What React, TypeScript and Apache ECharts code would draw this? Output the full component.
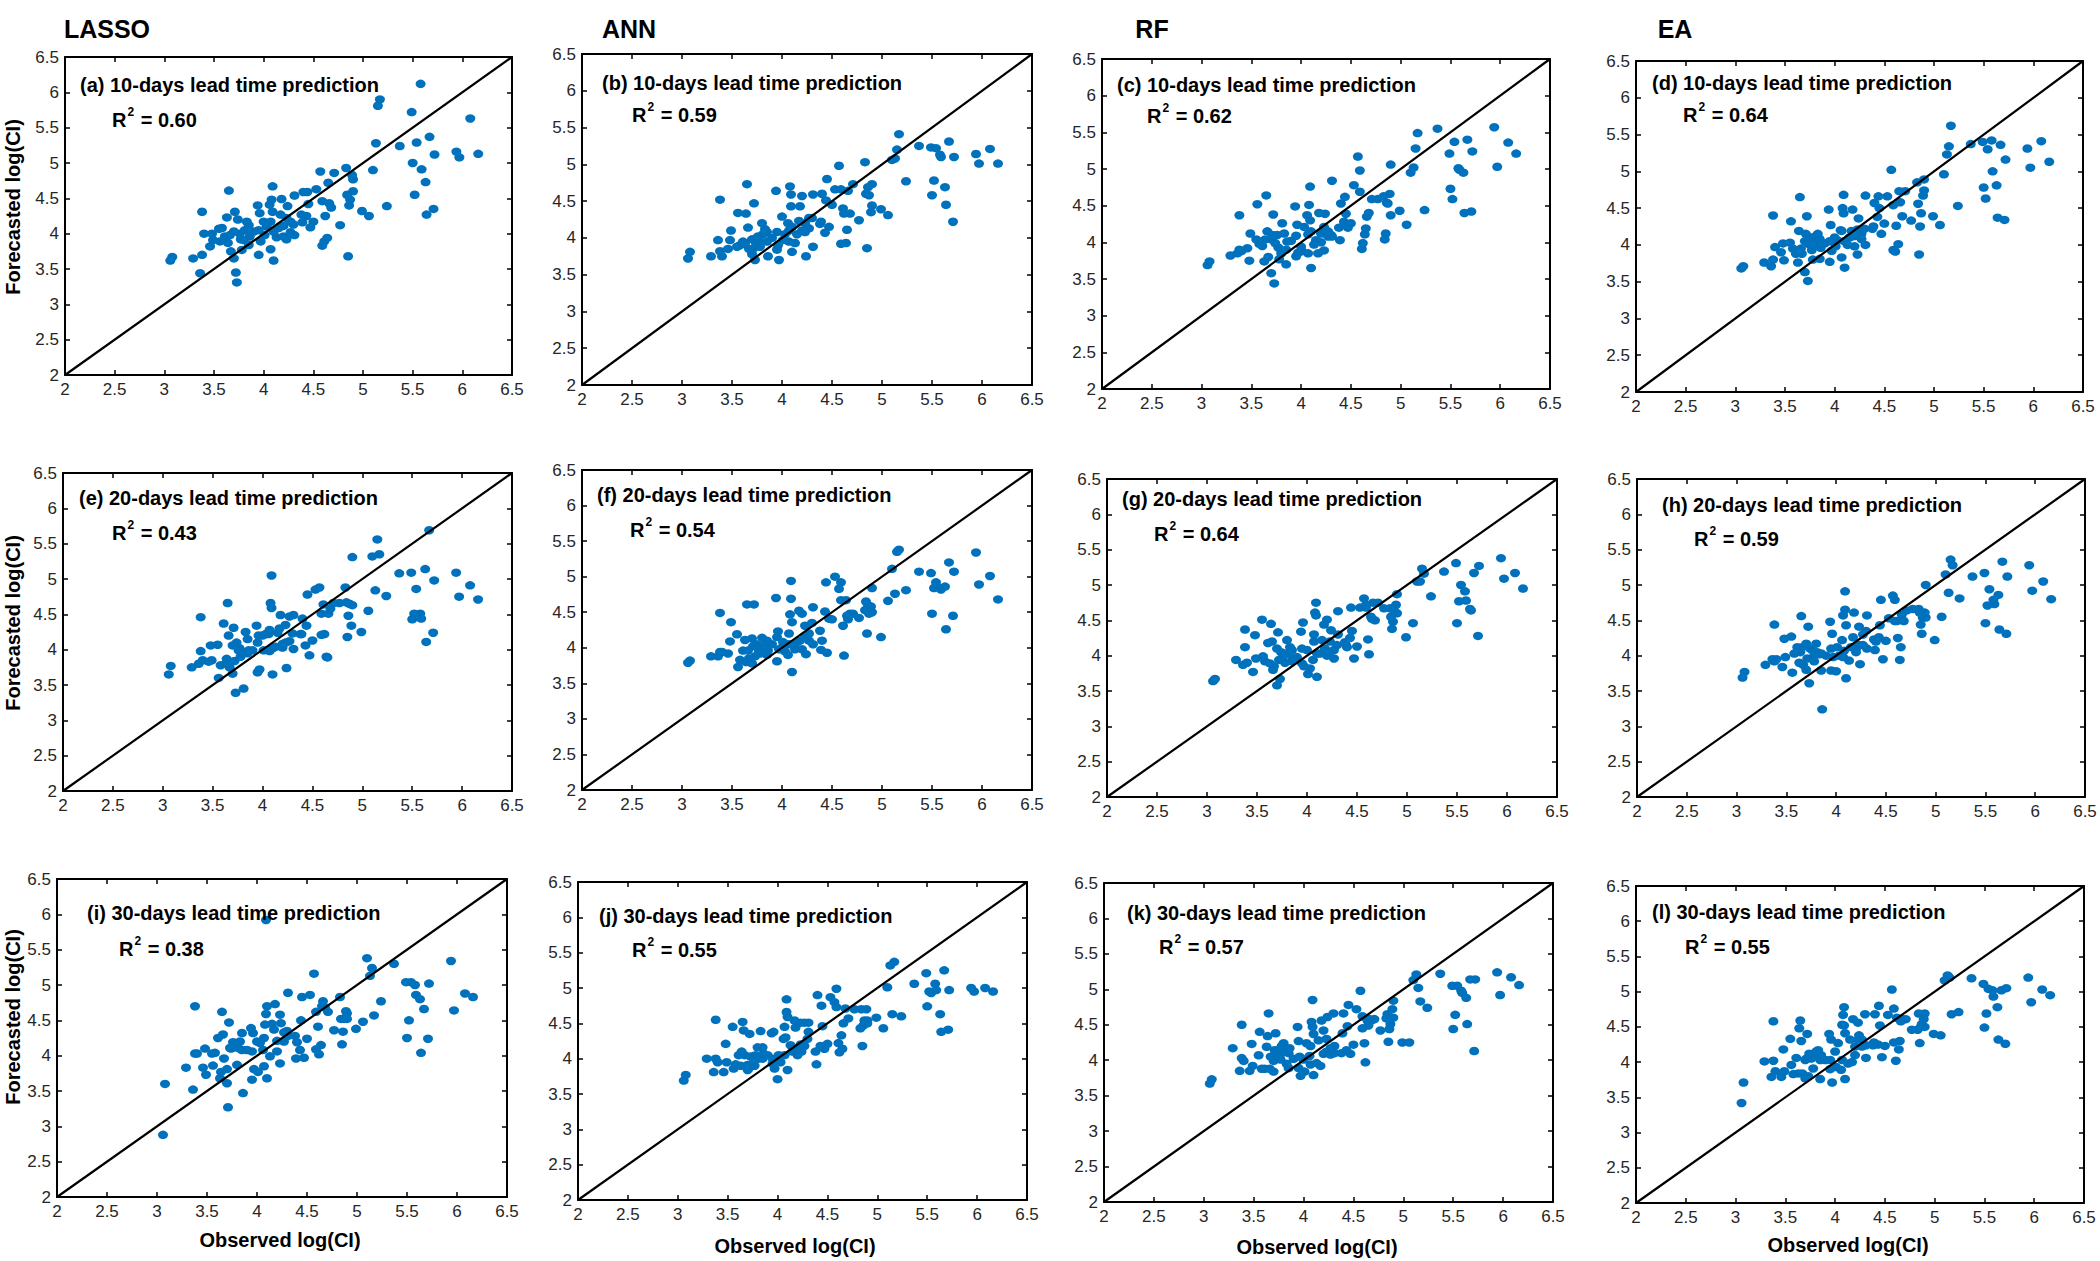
import React, { useEffect, useRef } from "react";
import * as echarts from "echarts";

// ---------------- DATA ----------------
const models = ["LASSO", "ANN", "RF", "EA"];
const panelLetters = ["a", "b", "c", "d", "e", "f", "g", "h", "i", "j", "k", "l"];
const leadTimes = [10, 10, 10, 10, 20, 20, 20, 20, 30, 30, 30, 30];
const r2Values = ["0.60", "0.59", "0.62", "0.64", "0.43", "0.54", "0.64", "0.59", "0.38", "0.55", "0.57", "0.55"];
const axisTicks = [2, 2.5, 3, 3.5, 4, 4.5, 5, 5.5, 6, 6.5];
const identityLine = [2, 6.5];

const observed = [
  3.06, 3.08, 3.29, 3.36, 3.38, 3.38, 3.40, 3.46, 3.48, 3.49,
  3.55, 3.56, 3.58, 3.61, 3.63, 3.64, 3.65, 3.66, 3.67, 3.70,
  3.70, 3.71, 3.72, 3.73, 3.74, 3.76, 3.77, 3.78, 3.80, 3.81,
  3.83, 3.85, 3.85, 3.86, 3.90, 3.94, 3.95, 3.95, 3.96, 3.97,
  4.00, 4.01, 4.03, 4.06, 4.07, 4.07, 4.08, 4.09, 4.09, 4.10,
  4.10, 4.13, 4.15, 4.17, 4.18, 4.20, 4.20, 4.23, 4.23, 4.24,
  4.27, 4.27, 4.30, 4.31, 4.31, 4.38, 4.39, 4.40, 4.43, 4.44,
  4.45, 4.47, 4.50, 4.53, 4.57, 4.59, 4.59, 4.61, 4.62, 4.64,
  4.65, 4.66, 4.68, 4.71, 4.77, 4.83, 4.84, 4.85, 4.86, 4.87,
  4.89, 4.90, 4.90, 4.99, 5.06, 5.10, 5.13, 5.15, 5.17, 5.24,
  5.37, 5.49, 5.50, 5.52, 5.54, 5.58, 5.59, 5.63, 5.64, 5.67,
  5.71, 5.72, 5.94, 5.97, 6.08, 6.16,
];

const lassoDay10 = [
  3.62, 3.67, 3.65, 3.44, 4.31, 3.70, 4.00, 3.82, 4.00, 3.91,
  4.07, 3.89, 4.08, 3.96, 4.23, 3.87, 4.61, 3.98, 3.75, 4.03,
  3.65, 4.31, 3.45, 3.31, 4.20, 4.00, 3.92, 3.77, 3.91, 4.05,
  4.17, 4.12, 3.84, 3.96, 4.03, 4.40, 3.70, 4.05, 4.29, 3.89,
  4.17, 3.98, 4.10, 4.41, 3.78, 4.17, 4.48, 4.67, 4.31, 3.62,
  4.03, 3.95, 4.08, 4.27, 4.49, 4.11, 3.96, 4.22, 3.92, 4.39,
  4.17, 4.02, 4.13, 4.54, 3.98, 4.27, 4.16, 4.59, 4.25, 4.59,
  4.42, 4.09, 4.17, 4.63, 4.88, 4.46, 3.83, 3.89, 4.25, 3.94,
  4.72, 4.43, 4.37, 4.86, 4.12, 4.93, 4.55, 3.68, 4.40, 4.48,
  4.83, 4.77, 4.60, 4.32, 4.25, 4.90, 5.28, 5.81, 5.90, 4.39,
  5.24, 5.72, 5.00, 4.55, 5.29, 6.12, 4.91, 4.73, 4.27, 5.37,
  4.35, 5.12, 5.16, 5.08, 5.63, 5.13,
];
const annDay10 = [
  3.72, 3.81, 3.75, 3.97, 4.52, 3.82, 3.75, 3.85, 3.97, 4.10,
  3.88, 4.34, 3.90, 3.95, 3.92, 4.33, 4.73, 4.14, 3.85, 3.98,
  3.78, 3.85, 4.47, 3.70, 3.92, 4.02, 3.97, 3.88, 4.20, 4.05,
  4.12, 4.08, 3.95, 3.75, 4.00, 4.64, 3.84, 4.08, 3.90, 3.70,
  4.29, 3.97, 4.05, 4.20, 3.95, 4.10, 4.70, 4.59, 4.43, 3.81,
  4.15, 3.93, 4.05, 4.23, 4.43, 4.10, 4.57, 4.20, 4.08, 3.75,
  4.13, 4.27, 4.27, 4.59, 3.88, 4.19, 4.22, 4.60, 4.07, 4.51,
  4.80, 4.15, 4.45, 4.66, 4.98, 4.66, 3.92, 4.40, 4.33, 3.93,
  4.11, 4.64, 4.33, 4.73, 4.24, 5.03, 4.60, 3.86, 4.69, 4.58,
  4.35, 4.44, 4.73, 4.39, 4.31, 5.06, 5.08, 5.20, 5.41, 4.77,
  5.25, 5.23, 4.58, 4.78, 5.22, 5.13, 5.10, 4.69, 4.45, 5.31,
  4.22, 5.10, 5.14, 5.01, 5.21, 5.01,
];
const rfDay10 = [
  3.69, 3.74, 3.82, 3.85, 4.37, 3.90, 3.88, 3.92, 3.75, 4.12,
  4.04, 4.52, 3.98, 3.95, 3.74, 4.04, 4.64, 4.15, 3.80, 4.04,
  3.58, 4.10, 4.38, 3.44, 3.99, 4.10, 3.93, 3.77, 3.85, 4.26,
  4.12, 3.70, 3.90, 4.01, 4.02, 4.49, 3.81, 4.09, 4.24, 3.86,
  3.94, 3.88, 4.21, 4.37, 3.85, 4.11, 4.51, 4.76, 4.30, 3.65,
  4.15, 3.97, 4.03, 3.85, 4.40, 4.12, 4.00, 4.21, 3.89, 4.39,
  4.08, 4.15, 4.10, 4.84, 4.08, 4.20, 4.03, 4.53, 4.28, 4.62,
  4.39, 4.20, 4.26, 4.78, 5.17, 4.98, 4.69, 3.91, 3.99, 4.11,
  4.19, 4.35, 4.40, 4.59, 4.59, 4.63, 4.04, 4.12, 4.54, 4.53,
  4.66, 4.37, 5.06, 4.43, 4.24, 4.95, 5.02, 5.28, 5.49, 4.44,
  5.55, 5.21, 4.73, 4.59, 5.37, 5.01, 4.99, 4.95, 4.40, 5.40,
  4.42, 5.24, 5.57, 5.03, 5.36, 5.21,
];
const eaDay10 = [
  3.68, 3.71, 3.76, 3.71, 4.40, 3.80, 3.97, 3.90, 4.02, 3.79,
  4.03, 4.32, 3.95, 3.88, 3.76, 4.19, 4.65, 3.95, 3.88, 4.05,
  3.63, 4.15, 4.39, 3.51, 4.01, 4.10, 3.93, 3.80, 4.01, 4.12,
  4.15, 3.81, 4.08, 3.96, 4.02, 4.48, 3.77, 4.05, 4.27, 3.92,
  4.10, 3.98, 4.06, 4.20, 3.83, 4.19, 4.50, 4.68, 4.43, 3.69,
  4.05, 4.00, 4.10, 4.19, 4.48, 4.12, 3.98, 4.21, 3.87, 4.36,
  4.15, 4.08, 4.22, 4.67, 4.00, 4.22, 4.25, 4.57, 4.38, 4.66,
  4.50, 4.15, 4.29, 4.66, 5.02, 4.54, 3.93, 3.91, 4.26, 4.01,
  4.73, 4.58, 4.39, 4.73, 4.33, 4.85, 4.56, 3.87, 4.25, 4.43,
  4.67, 4.74, 4.89, 4.39, 4.27, 4.96, 5.23, 5.34, 5.62, 4.53,
  5.37, 5.40, 4.78, 4.63, 5.30, 5.42, 5.00, 4.81, 4.37, 5.36,
  4.34, 5.16, 5.31, 5.05, 5.41, 5.13,
];
const lassoDay20 = [
  3.65, 3.77, 3.75, 3.80, 4.46, 3.98, 3.85, 3.83, 4.06, 3.85,
  4.07, 3.60, 3.78, 4.37, 3.80, 3.87, 4.66, 4.20, 3.75, 4.06,
  3.66, 4.31, 3.84, 3.39, 4.10, 3.99, 4.02, 3.90, 3.95, 3.45,
  4.25, 4.15, 3.95, 3.99, 3.99, 4.34, 3.68, 4.10, 4.20, 3.72,
  4.20, 3.99, 4.22, 4.22, 3.98, 4.28, 4.66, 5.05, 4.59, 3.65,
  4.02, 4.04, 4.24, 4.30, 4.49, 4.08, 4.03, 4.35, 4.10, 3.74,
  4.12, 4.47, 4.23, 4.49, 4.01, 4.22, 4.22, 4.44, 4.06, 4.34,
  4.78, 3.92, 4.13, 4.85, 4.88, 4.51, 4.21, 4.64, 4.22, 3.90,
  3.89, 4.51, 4.58, 4.66, 4.66, 4.88, 4.67, 4.18, 4.48, 4.65,
  4.34, 4.63, 5.31, 4.25, 4.55, 5.32, 4.84, 5.56, 5.35, 4.76,
  5.08, 5.09, 4.43, 4.51, 4.86, 4.51, 4.44, 5.14, 4.11, 5.69,
  4.24, 4.98, 5.09, 4.75, 4.91, 4.71,
];
const annDay20 = [
  3.79, 3.82, 3.88, 3.88, 4.49, 3.94, 3.94, 3.92, 4.09, 4.36,
  4.19, 3.73, 3.83, 3.96, 4.11, 3.80, 4.61, 3.96, 3.85, 4.13,
  3.78, 4.02, 4.61, 3.88, 4.05, 4.02, 3.95, 3.92, 4.14, 3.95,
  4.06, 3.90, 4.10, 3.96, 4.05, 4.70, 3.81, 4.15, 4.23, 3.98,
  4.00, 4.08, 3.95, 3.90, 4.20, 4.05, 4.47, 4.94, 4.69, 3.66,
  4.36, 3.98, 4.08, 4.52, 4.10, 4.48, 3.98, 4.31, 4.17, 3.91,
  4.20, 4.10, 4.35, 4.57, 4.05, 4.24, 3.97, 4.10, 4.51, 4.92,
  3.93, 4.41, 4.40, 5.00, 4.83, 4.92, 4.67, 4.31, 3.89, 4.67,
  4.45, 4.40, 4.48, 4.48, 4.42, 4.53, 4.65, 4.20, 4.60, 4.48,
  4.58, 4.84, 4.50, 4.15, 4.66, 5.11, 4.76, 5.35, 5.38, 4.81,
  5.07, 5.05, 4.48, 4.84, 4.92, 4.84, 4.82, 4.86, 4.26, 5.20,
  4.45, 5.07, 5.34, 4.89, 5.01, 4.68,
];
const rfDay20 = [
  3.64, 3.67, 3.94, 3.87, 4.37, 4.12, 3.90, 3.77, 4.29, 3.96,
  4.51, 3.99, 3.92, 4.18, 3.89, 4.45, 4.20, 3.80, 3.85, 4.10,
  3.58, 4.33, 3.94, 3.67, 4.05, 3.98, 4.03, 3.90, 4.22, 4.03,
  4.12, 3.92, 4.08, 3.96, 3.98, 4.34, 3.89, 4.10, 4.47, 3.85,
  4.08, 3.74, 3.82, 3.94, 4.20, 4.30, 4.61, 4.75, 4.57, 3.70,
  4.03, 4.03, 4.22, 4.44, 4.10, 4.51, 4.00, 4.20, 4.05, 4.36,
  4.08, 3.96, 4.15, 4.63, 4.30, 4.19, 4.15, 4.12, 4.25, 4.68,
  4.35, 3.96, 4.13, 4.68, 4.81, 4.72, 4.68, 4.23, 4.02, 4.55,
  4.52, 4.75, 4.50, 4.75, 4.67, 4.67, 4.55, 4.38, 4.48, 4.64,
  4.72, 4.87, 4.60, 4.26, 4.46, 5.05, 5.05, 5.23, 5.16, 4.84,
  5.19, 5.31, 4.46, 4.77, 5.00, 4.91, 4.78, 4.66, 4.64, 5.17,
  4.28, 5.27, 5.38, 5.09, 5.17, 4.95,
];
const eaDay20 = [
  3.69, 3.77, 3.87, 3.95, 4.44, 3.92, 3.95, 3.84, 4.24, 3.98,
  4.27, 3.76, 4.03, 4.12, 3.90, 4.05, 4.56, 4.12, 3.87, 4.17,
  3.80, 3.96, 4.41, 3.61, 4.10, 4.08, 3.98, 3.92, 4.17, 4.05,
  4.02, 3.79, 4.03, 3.24, 4.00, 4.48, 3.79, 4.10, 4.31, 3.98,
  3.78, 4.12, 4.00, 4.22, 3.98, 4.57, 4.07, 4.91, 4.65, 3.68,
  4.43, 3.93, 4.12, 4.26, 4.61, 4.05, 4.10, 4.41, 4.15, 3.88,
  4.15, 4.30, 4.35, 4.57, 4.10, 4.23, 4.08, 4.20, 4.26, 4.43,
  4.79, 3.95, 4.21, 4.53, 4.85, 4.79, 4.49, 4.49, 4.25, 3.94,
  4.12, 4.58, 4.49, 4.64, 4.66, 4.66, 4.61, 4.44, 4.31, 4.54,
  4.61, 4.54, 5.00, 4.22, 4.55, 5.15, 4.89, 5.36, 5.28, 4.81,
  5.12, 5.17, 4.46, 4.71, 4.94, 4.79, 4.73, 4.86, 4.37, 5.33,
  4.31, 5.12, 5.28, 4.92, 5.05, 4.80,
];
const lassoDay30 = [
  2.88, 3.60, 3.83, 3.52, 4.70, 4.03, 4.03, 3.83, 4.10, 3.73,
  4.03, 3.86, 4.04, 4.25, 3.68, 3.77, 4.62, 4.30, 3.96, 3.61,
  3.81, 3.27, 4.47, 4.11, 4.10, 4.19, 4.12, 4.15, 3.87, 4.11,
  4.20, 4.32, 4.08, 3.47, 4.08, 4.39, 3.66, 4.06, 4.32, 3.81,
  4.20, 3.77, 4.18, 4.08, 3.85, 4.25, 4.44, 5.92, 4.59, 3.68,
  4.70, 3.99, 4.45, 4.37, 4.73, 4.21, 4.06, 4.58, 3.89, 4.46,
  4.33, 4.20, 4.35, 4.89, 4.28, 4.28, 3.96, 4.19, 4.08, 4.50,
  4.83, 3.97, 4.24, 4.86, 5.16, 4.62, 4.09, 4.41, 4.02, 4.15,
  4.70, 4.77, 4.68, 4.62, 4.36, 4.83, 4.52, 4.16, 4.34, 4.52,
  4.63, 4.52, 4.60, 4.38, 4.48, 5.38, 5.13, 5.24, 4.57, 4.77,
  5.30, 5.04, 4.25, 4.50, 5.04, 5.00, 4.86, 4.80, 4.04, 4.66,
  4.24, 5.02, 5.34, 4.64, 4.88, 4.83,
];
const annDay30 = [
  3.69, 3.77, 4.00, 3.81, 4.55, 4.00, 3.95, 3.81, 4.21, 3.95,
  4.45, 3.86, 3.92, 4.05, 3.90, 4.10, 4.52, 4.40, 4.05, 3.91,
  3.84, 3.86, 4.35, 4.03, 3.92, 4.03, 3.90, 4.05, 4.16, 4.00,
  4.39, 4.16, 4.00, 4.07, 4.05, 4.36, 3.93, 4.00, 4.38, 3.86,
  3.71, 4.05, 3.95, 4.28, 4.05, 4.45, 4.30, 4.84, 4.66, 3.84,
  4.59, 4.19, 4.10, 4.54, 4.44, 4.05, 4.15, 4.51, 4.20, 4.10,
  4.18, 4.51, 4.28, 4.51, 4.38, 4.10, 3.92, 4.90, 4.18, 4.75,
  4.46, 4.14, 4.21, 4.87, 4.80, 4.99, 4.73, 4.22, 4.09, 4.33,
  4.14, 4.50, 4.71, 4.57, 4.70, 4.43, 4.70, 4.18, 4.47, 4.54,
  4.70, 4.50, 4.54, 4.58, 4.43, 5.01, 5.32, 4.63, 5.37, 4.60,
  5.06, 5.21, 4.74, 4.95, 4.93, 5.06, 4.97, 4.63, 4.38, 5.25,
  4.41, 4.97, 5.00, 4.95, 5.00, 4.95,
];
const rfDay30 = [
  3.67, 3.73, 4.17, 3.85, 4.50, 4.03, 3.99, 3.85, 4.23, 3.92,
  4.07, 4.40, 3.88, 3.88, 4.19, 4.34, 4.66, 3.88, 4.05, 3.84,
  3.99, 4.14, 4.38, 4.10, 4.14, 4.05, 4.01, 4.20, 4.24, 4.12,
  3.95, 4.10, 3.89, 4.17, 4.02, 4.47, 3.89, 4.27, 4.05, 3.78,
  4.01, 3.84, 4.24, 4.06, 3.94, 4.20, 4.54, 4.85, 4.47, 3.79,
  4.37, 3.96, 4.28, 3.92, 4.56, 4.09, 4.42, 4.12, 4.30, 4.61,
  4.08, 4.17, 4.66, 4.20, 4.10, 4.10, 4.38, 4.66, 4.14, 4.48,
  4.78, 4.09, 4.22, 4.72, 4.98, 4.62, 4.45, 4.24, 3.97, 4.56,
  4.49, 4.58, 4.56, 4.58, 4.42, 4.59, 4.65, 4.26, 4.44, 4.51,
  4.72, 4.84, 4.60, 4.25, 4.25, 5.13, 5.21, 5.02, 4.83, 4.74,
  5.22, 5.05, 4.44, 4.64, 5.05, 4.98, 4.95, 4.88, 4.51, 5.14,
  4.13, 5.14, 5.24, 4.92, 5.17, 5.06,
];
const eaDay30 = [
  3.42, 3.71, 4.01, 3.79, 4.58, 4.02, 3.87, 3.79, 4.18, 3.87,
  4.33, 3.96, 3.83, 4.06, 3.84, 4.48, 4.59, 4.30, 3.84, 4.03,
  3.77, 4.05, 4.40, 3.80, 4.12, 4.05, 4.08, 3.91, 4.12, 4.15,
  4.17, 3.76, 4.03, 4.10, 4.03, 4.40, 3.90, 4.03, 4.32, 3.71,
  4.15, 3.93, 4.27, 3.89, 4.03, 4.53, 4.67, 4.78, 4.52, 3.76,
  4.41, 3.98, 4.32, 4.00, 4.61, 4.10, 4.22, 4.56, 4.32, 4.38,
  4.22, 4.32, 4.68, 4.24, 4.06, 4.24, 4.28, 4.68, 4.25, 4.80,
  4.52, 4.07, 4.23, 4.67, 5.03, 4.76, 4.28, 4.02, 4.63, 4.18,
  4.30, 4.58, 4.61, 4.61, 4.46, 4.46, 4.69, 4.27, 4.50, 4.54,
  4.61, 4.50, 4.69, 4.40, 4.38, 5.16, 5.23, 5.20, 4.68, 4.71,
  5.19, 5.11, 4.49, 4.69, 5.04, 5.02, 4.93, 4.78, 4.32, 5.02,
  4.26, 5.05, 5.20, 4.85, 5.03, 4.95,
];

const forecasts = [
  lassoDay10, annDay10, rfDay10, eaDay10,
  lassoDay20, annDay20, rfDay20, eaDay20,
  lassoDay30, annDay30, rfDay30, eaDay30,
];

// ---------------- LAYOUT (pixels) ----------------
// plot boxes: [left, top, right, bottom]
const boxes = [
  [65, 57, 512, 375], [582, 54, 1032, 385], [1102, 59, 1550, 389], [1636, 61, 2083, 392],
  [63, 473, 512, 791], [582, 470, 1032, 790], [1107, 479, 1557, 797], [1637, 479, 2085, 797],
  [57, 879, 507, 1197], [578, 882, 1027, 1200], [1104, 883, 1553, 1202], [1636, 886, 2084, 1203],
];
// panel title and R² text anchor points (left x, centre y)
const titlePos = [
  [80, 85], [602, 83], [1117, 85], [1652, 83],
  [79, 498], [597, 495], [1122, 499], [1662, 505],
  [87, 913], [599, 916], [1127, 913], [1652, 912],
];
const r2Pos = [
  [112, 118], [632, 113], [1147, 114], [1683, 113],
  [112, 531], [630, 528], [1154, 532], [1694, 537],
  [119, 947], [632, 948], [1159, 945], [1685, 945],
];
const headerPos = [[107, 29], [629, 29], [1152, 29], [1675, 29]];
const yLabelPos = [[13, 207], [13, 623], [13, 1017]];
const xLabelPos = [[280, 1240], [795, 1246], [1317, 1247], [1848, 1245]];

const FONT = "'Liberation Sans', Arial, Helvetica, sans-serif";
const TEXT_COLOR = "#262626";
const DOT_COLOR = "#0072BD";

function buildOption() {
  const grid: any[] = [];
  const xAxis: any[] = [];
  const yAxis: any[] = [];
  const series: any[] = [];
  const graphic: any[] = [];
  const axisMin = axisTicks[0];
  const axisMax = axisTicks[axisTicks.length - 1];
  const step = axisTicks[1] - axisTicks[0];

  const common = (showLabel: boolean) => ({
    type: "value",
    min: axisMin,
    max: axisMax,
    interval: step,
    axisLine: { show: true, onZero: false, lineStyle: { color: "#000", width: 2 } },
    axisTick: { show: true, inside: true, length: 5, lineStyle: { color: "#000", width: 1.5 } },
    axisLabel: {
      show: showLabel,
      color: TEXT_COLOR,
      fontSize: 17,
      fontFamily: FONT,
      margin: 6,
      showMinLabel: true,
      showMaxLabel: true,
    },
    splitLine: { show: false },
  });

  boxes.forEach((b, i) => {
    grid.push({ left: b[0], top: b[1], width: b[2] - b[0], height: b[3] - b[1], containLabel: false });
    xAxis.push({ ...common(true), gridIndex: i, position: "bottom" });
    xAxis.push({ ...common(false), gridIndex: i, position: "top" });
    yAxis.push({ ...common(true), gridIndex: i, position: "left" });
    yAxis.push({ ...common(false), gridIndex: i, position: "right" });

    const data = observed.map((x, k) => [x, forecasts[i][k]]);
    series.push({
      type: "scatter",
      xAxisIndex: 2 * i,
      yAxisIndex: 2 * i,
      data,
      symbol: "circle",
      symbolSize: [10, 8.5],
      itemStyle: { color: DOT_COLOR, opacity: 1 },
      z: 2,
      silent: true,
    });
    series.push({
      type: "line",
      xAxisIndex: 2 * i,
      yAxisIndex: 2 * i,
      data: [[identityLine[0], identityLine[0]], [identityLine[1], identityLine[1]]],
      symbol: "none",
      lineStyle: { color: "#000", width: 2.2 },
      z: 3,
      silent: true,
    });

    graphic.push({
      type: "text",
      x: titlePos[i][0],
      y: titlePos[i][1],
      z: 10,
      style: {
        text: `(${panelLetters[i]}) ${leadTimes[i]}-days lead time prediction`,
        fontFamily: FONT,
        fontSize: 20,
        fontWeight: "bold",
        fill: "#000",
        align: "left",
        verticalAlign: "middle",
      },
    });
    graphic.push({
      type: "text",
      x: r2Pos[i][0],
      y: r2Pos[i][1],
      z: 10,
      style: {
        text: `{r|R}{s|2}{r| = ${r2Values[i]}}`,
        align: "left",
        verticalAlign: "middle",
        rich: {
          r: { fontFamily: FONT, fontSize: 20, fontWeight: "bold", fill: "#000", lineHeight: 24, verticalAlign: "bottom" },
          s: { fontFamily: FONT, fontSize: 12, fontWeight: "bold", fill: "#000", lineHeight: 24, verticalAlign: "top", padding: [0, 1, 0, 1] },
        },
      },
    });
  });

  models.forEach((m, c) => {
    graphic.push({
      type: "text",
      x: headerPos[c][0],
      y: headerPos[c][1],
      style: {
        text: m,
        fontFamily: FONT,
        fontSize: 25,
        fontWeight: "bold",
        fill: "#000",
        align: "center",
        verticalAlign: "middle",
      },
    });
    graphic.push({
      type: "text",
      x: xLabelPos[c][0],
      y: xLabelPos[c][1],
      style: {
        text: "Observed log(CI)",
        fontFamily: FONT,
        fontSize: 20,
        fontWeight: "bold",
        fill: "#000",
        align: "center",
        verticalAlign: "middle",
      },
    });
  });

  yLabelPos.forEach((p) => {
    graphic.push({
      type: "text",
      x: p[0],
      y: p[1],
      rotation: Math.PI / 2,
      style: {
        text: "Forecasted log(CI)",
        fontFamily: FONT,
        fontSize: 20,
        fontWeight: "bold",
        fill: "#000",
        align: "center",
        verticalAlign: "middle",
      },
    });
  });

  return {
    animation: false,
    backgroundColor: "#ffffff",
    grid,
    xAxis,
    yAxis,
    series,
    graphic,
  };
}

export default function App() {
  const ref = useRef<HTMLDivElement>(null);
  useEffect(() => {
    if (!ref.current) return;
    const chart = echarts.init(ref.current, undefined, { renderer: "svg" });
    chart.setOption(buildOption() as any);
    return () => chart.dispose();
  }, []);
  return (
    <div
      ref={ref}
      style={{ position: "absolute", left: 0, top: 0, width: 2100, height: 1261, background: "#fff" }}
    />
  );
}
